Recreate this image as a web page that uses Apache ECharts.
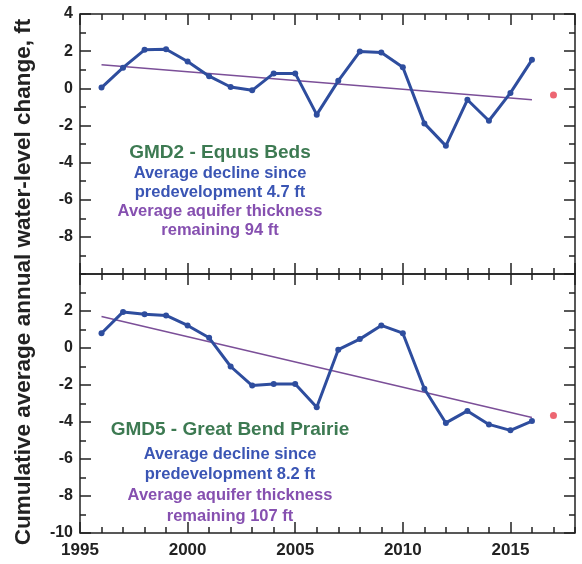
<!DOCTYPE html>
<html>
<head>
<meta charset="utf-8">
<script src="https://cdn.jsdelivr.net/npm/echarts@6/dist/echarts.min.js"></script>
<style>html,body{margin:0;padding:0;background:#fff}#c{width:582px;height:564px}</style>
</head>
<body>
<div id="c"></div>
<script>
const years = [1996,1997,1998,1999,2000,2001,2002,2003,2004,2005,2006,2007,2008,2009,2010,2011,2012,2013,2014,2015,2016];
const gmd2 = [0.04,1.11,2.07,2.1,1.44,0.65,0.07,-0.11,0.8,0.8,-1.42,0.4,1.98,1.93,1.13,-1.89,-3.1,-0.62,-1.75,-0.25,1.53];
const gmd5 = [0.8,1.95,1.82,1.76,1.22,0.55,-1.0,-2.03,-1.95,-1.95,-3.2,-0.09,0.48,1.22,0.8,-2.2,-4.05,-3.4,-4.13,-4.45,-3.95];
const trendYears = [1996,2016];
const gmd2Trend = [1.27,-0.62];
const gmd5Trend = [1.7,-3.76];
const projYear = 2017;
const gmd2Proj = -0.36;
const gmd5Proj = -3.65;
const xTickLabels = [1995,2000,2005,2010,2015];
const yTickLabels = [4,2,0,-2,-4,-6,-8,-10];

const lineColor = '#2e4d9e';
const trendColor = '#7b4f98';
const font = 'Liberation Sans, Arial, sans-serif';

const chart = echarts.init(document.getElementById('c'));

function xAxes(gi, showLabels) {
  const base = {type:'value', gridIndex:gi, min:1995, max:2018, splitLine:{show:false}, axisLine:{show:false,onZero:false}};
  return [
    Object.assign({}, base, {position:'bottom', interval:1, axisTick:{inside:true,length:6,lineStyle:{color:'#222',width:1.5}}, axisLabel:{show:false}}),
    Object.assign({}, base, {position:'bottom', interval:5, axisTick:{inside:true,length:11,lineStyle:{color:'#222',width:1.5}},
      axisLabel:{show:showLabels, showMaxLabel:false, margin:9, fontSize:17, fontWeight:'bold', color:'#222', fontFamily:font,
        formatter: v => xTickLabels.indexOf(v) >= 0 ? String(v) : ''}}),
    Object.assign({}, base, {position:'top', interval:1, axisTick:{inside:true,length:6,lineStyle:{color:'#222',width:1.5}}, axisLabel:{show:false}}),
    Object.assign({}, base, {position:'top', interval:5, axisTick:{inside:true,length:11,lineStyle:{color:'#222',width:1.5}}, axisLabel:{show:false}})
  ];
}
function yAxes(gi, hideMin, hideMax) {
  const base = {type:'value', gridIndex:gi, min:-10, max:4, splitLine:{show:false}, axisLine:{show:false,onZero:false}};
  return [
    Object.assign({}, base, {position:'left', interval:2, axisTick:{inside:true,length:11,lineStyle:{color:'#222',width:1.5}},
      axisLabel:{showMinLabel:!hideMin, showMaxLabel:!hideMax, margin:7, fontSize:16, fontWeight:'bold', color:'#222', fontFamily:font,
        formatter: v => yTickLabels.indexOf(v) >= 0 ? String(v) : ''}}),
    Object.assign({}, base, {position:'left', interval:1, axisTick:{inside:true,length:6,lineStyle:{color:'#222',width:1.5}}, axisLabel:{show:false}}),
    Object.assign({}, base, {position:'right', interval:2, axisTick:{inside:true,length:11,lineStyle:{color:'#222',width:1.5}}, axisLabel:{show:false}}),
    Object.assign({}, base, {position:'right', interval:1, axisTick:{inside:true,length:6,lineStyle:{color:'#222',width:1.5}}, axisLabel:{show:false}})
  ];
}

function seriesFor(xi, yi, vals, trend, proj) {
  return [
    {type:'line', xAxisIndex:xi, yAxisIndex:yi, data: trendYears.map((y,i)=>[y,trend[i]]), symbol:'none',
      lineStyle:{color:trendColor,width:1.5}, z:2, silent:true},
    {type:'line', xAxisIndex:xi, yAxisIndex:yi, data: years.map((y,i)=>[y,vals[i]]), symbol:'circle', symbolSize:6,
      lineStyle:{color:lineColor,width:3}, itemStyle:{color:lineColor}, z:3, silent:true},
    {type:'scatter', xAxisIndex:xi, yAxisIndex:yi, data:[[projYear,proj]], symbolSize:7, itemStyle:{color:'#e8404f'}, z:3, silent:true}
  ];
}

function annot(cx, ys, lines) {
  return lines.map((l,i)=>({type:'text', x:cx, y:ys[i],
    style:{text:l.t, fill:l.c, font:(l.big?'bold 19px ':'bold 16.5px ')+font, textAlign:'center', textVerticalAlign:'middle'}}));
}

const option = {
  animation:false,
  grid:[
    {left:80, right:7, top:14, height:260, show:true, borderColor:'#222', borderWidth:1.5},
    {left:80, right:7, top:274, height:259, show:true, borderColor:'#222', borderWidth:1.5}
  ],
  xAxis: xAxes(0,false).concat(xAxes(1,true)),
  yAxis: yAxes(0,true,false).concat(yAxes(1,false,true)),
  series: seriesFor(0,0,gmd2,gmd2Trend,gmd2Proj).concat(seriesFor(4,4,gmd5,gmd5Trend,gmd5Proj)),
  graphic: [
    {type:'text', x:24, y:282, rotation:Math.PI/2,
      style:{text:'Cumulative average annual water-level change, ft', fill:'#222', font:'bold 22.5px '+font, textAlign:'center', textVerticalAlign:'middle'}}
  ].concat(annot(220,[153,173,192,211,230],[
    {t:'GMD2 - Equus Beds', c:'#3d7a52', big:true},
    {t:'Average decline since', c:'#3a55b4'},
    {t:'predevelopment 4.7 ft', c:'#3a55b4'},
    {t:'Average aquifer thickness', c:'#8650b0'},
    {t:'remaining 94 ft', c:'#8650b0'}
  ])).concat(annot(230,[430,454,474,495,516],[
    {t:'GMD5 - Great Bend Prairie', c:'#3d7a52', big:true},
    {t:'Average decline since', c:'#3a55b4'},
    {t:'predevelopment 8.2 ft', c:'#3a55b4'},
    {t:'Average aquifer thickness', c:'#8650b0'},
    {t:'remaining 107 ft', c:'#8650b0'}
  ]))
};
chart.setOption(option);
</script>
</body>
</html>
